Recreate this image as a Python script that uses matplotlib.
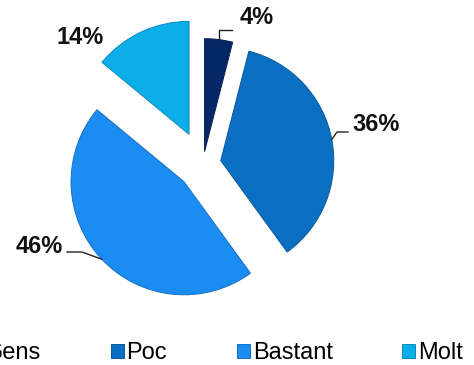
import matplotlib
matplotlib.use('Agg')
import matplotlib.pyplot as plt
import matplotlib.colors as mcolors
import numpy as np

plt.rcParams['font.family'] = ['Liberation Sans', 'DejaVu Sans']

# data
categories = ['Gens', 'Poc', 'Bastant', 'Molt']
shares = [4, 36, 46, 14]
pct_labels = ['4%', '36%', '46%', '14%']
colors = ['#062766', '#0a6fc2', '#1a8cf2', '#0caeea']
explode = [0.11, 0.16, 0.23, 0.29]

W, H = 474, 365
R = 113            # pie radius, px
cx, cy = 203, 164  # pie centre, px from top-left


def px(x, y):
    # pixel position -> data coords (radius 1 == R px)
    return ((x - cx) / R, (cy - y) / R)


fig = plt.figure(figsize=(W / 100, H / 100), dpi=100)
ax = fig.add_axes([0, 0, 1, 1])
wedges, _ = ax.pie(shares, colors=colors, explode=explode, startangle=90,
                   counterclock=False, radius=1)
for w, c in zip(wedges, colors):
    rgb = np.array(mcolors.to_rgb(c)) * 0.8
    w.set_edgecolor(rgb)
    w.set_linewidth(0.7)

ax.set_xlim(-cx / R, (W - cx) / R)
ax.set_ylim(-(H - cy) / R, cy / R)
ax.set_aspect('auto')
ax.axis('off')


def arc_mid(w):
    a = np.deg2rad((w.theta1 + w.theta2) / 2)
    return (w.center[0] + np.cos(a) * w.r, w.center[1] + np.sin(a) * w.r)


# leader lines
s = arc_mid(wedges[0])
p1 = (s[0], px(0, 30)[1]); p2 = px(232, 30)
ax.plot([s[0], p1[0], p2[0]], [s[1], p1[1], p2[1]], color='#222222', lw=1)

s = arc_mid(wedges[1])
p1 = px(337, 132); p2 = px(348, 132)
ax.plot([s[0], p1[0], p2[0]], [s[1], p1[1], p2[1]], color='#222222', lw=1)

s = arc_mid(wedges[2])
p1 = px(82, 252); p2 = px(67, 252)
ax.plot([s[0], p1[0], p2[0]], [s[1], p1[1], p2[1]], color='#222222', lw=1)

label_pos = [(257, 17), (376, 125), (39, 247), (80, 37)]
for txt, (x, y) in zip(pct_labels, label_pos):
    ax.text(*px(x, y), txt, ha='center', va='center', fontsize=17,
            fontweight='bold', color='#111111')

fig.legend(wedges, categories, loc='center', bbox_to_anchor=(216 / W, 1 - 353 / H),
           ncol=4, frameon=False, fontsize=17, handlelength=0.55,
           handleheight=0.55, handletextpad=0.12, columnspacing=2.95,
           borderaxespad=0, borderpad=0)

fig.savefig('out.png', dpi=100)
